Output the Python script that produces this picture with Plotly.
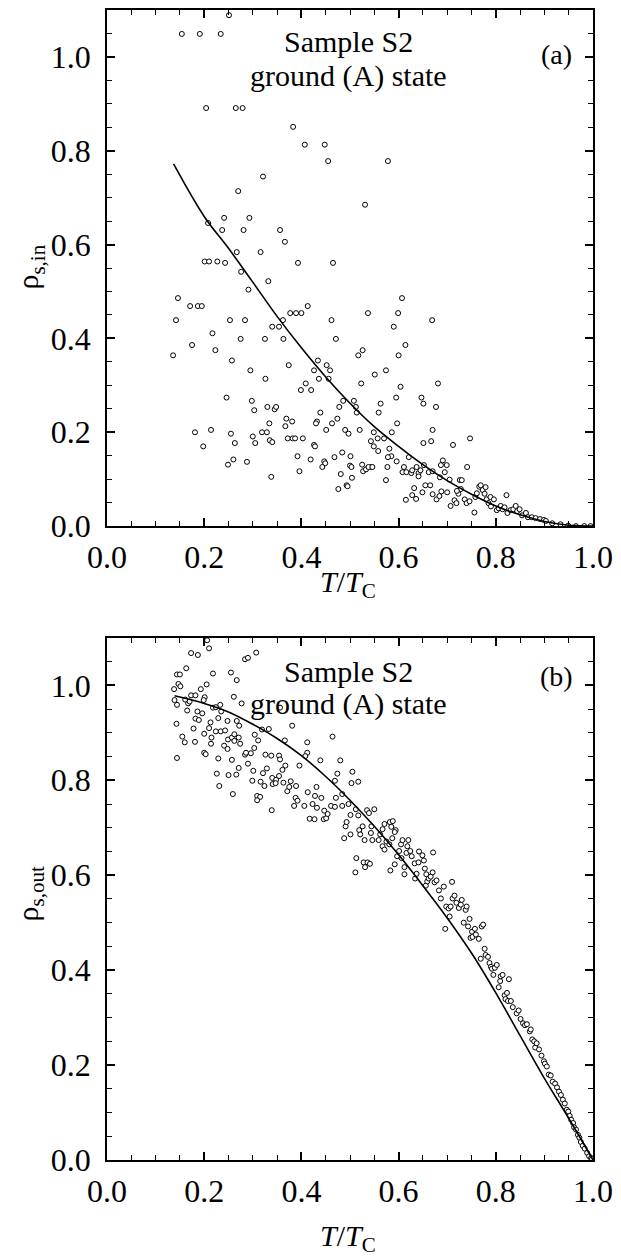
import plotly.graph_objects as go

# ---------------- Panel (a): rho_s,in ----------------
a_x = [0.154,0.191,0.234,0.251,0.204,0.265,0.279,0.383,0.407,0.448,0.455,0.578,0.321,0.531,0.270,
       0.208,0.241,0.293,0.237,0.281,0.356,0.366,0.316,0.267,0.201,0.210,0.227,0.243,0.393,0.465,
       0.276,0.332,0.291,0.146,0.171,0.187,0.195,0.413,0.377,0.389,0.400,0.537,0.599,0.607,
       0.142,0.253,0.284,0.362,0.462,0.669,0.590,0.340,0.354,0.217,0.275,0.325,0.363,0.471,
       0.175,0.614,0.136,0.223,0.526,0.517,0.600,0.257,0.434,0.452,0.374,0.426,0.459,0.295,0.574,
       0.551,0.326,0.436,0.456,0.523,0.409,0.604,0.681,0.399,0.420,0.246,0.595,0.647,
       0.298,0.486,0.508,0.303,0.330,0.345,0.348,0.478,0.512,0.563,0.651,0.677,
       0.514,0.559,0.439,0.369,0.381,0.474,0.334,0.432,0.430,0.463,0.597,0.367,0.670,0.490,
       0.181,0.214,0.255,0.319,0.329,0.451,0.497,0.520,0.549,0.586,0.747,
       0.300,0.372,0.382,0.387,0.403,0.543,0.570,0.557,
       0.263,0.305,0.335,0.340,0.198,0.426,0.428,0.549,0.651,0.667,0.712,0.558,0.581,
       0.392,0.501,0.585,0.621,0.484,0.525,0.260,0.419,0.468,0.578,0.596,
       0.288,0.249,0.447,0.449,0.443,0.500,0.503,0.577,0.544,0.637,0.611,0.741,
       0.608,0.616,0.626,0.628,0.641,0.645,0.652,0.641,0.662,0.670,
       0.396,0.527,0.533,0.538,0.546,0.481,0.504,0.338,
       0.685,0.695,0.687,0.691,0.699,0.705,
       0.493,0.495,0.476,0.574,0.632,0.615,0.628,0.636,0.649,0.655,0.665,0.670,0.678,0.684,0.688,
       0.700,0.707,0.715,0.719,0.723,0.728,0.726,0.730,0.720,0.736,0.740,0.746,0.756,0.758,0.761,
       0.766,0.769,0.773,0.779,0.777,0.781,0.785,0.789,0.790,0.796,0.802,0.806,0.810,0.814,0.818,
       0.822,0.824,0.830,0.836,0.841,0.844,0.849,0.854,0.862,0.866,0.874,0.882,0.891,0.899,0.903,
       0.916,0.933,0.949,0.965,0.982,0.995]
a_y = [1.049,1.049,1.049,1.089,0.891,0.891,0.891,0.851,0.813,0.813,0.778,0.778,0.745,0.685,0.714,
       0.646,0.657,0.657,0.631,0.631,0.631,0.606,0.584,0.584,0.564,0.564,0.564,0.561,0.561,0.561,
       0.542,0.522,0.504,0.486,0.469,0.469,0.469,0.469,0.454,0.454,0.454,0.454,0.454,0.486,
       0.439,0.439,0.439,0.439,0.439,0.439,0.425,0.425,0.425,0.411,0.399,0.399,0.399,0.399,
       0.386,0.386,0.364,0.375,0.375,0.364,0.364,0.353,0.353,0.343,0.343,0.332,0.332,0.332,0.332,
       0.323,0.314,0.314,0.314,0.304,0.304,0.297,0.304,0.290,0.290,0.274,0.274,0.274,
       0.267,0.267,0.267,0.247,0.254,0.249,0.254,0.254,0.254,0.261,0.261,0.254,
       0.242,0.242,0.242,0.229,0.223,0.229,0.219,0.223,0.219,0.219,0.219,0.213,0.205,0.205,
       0.200,0.205,0.197,0.200,0.200,0.205,0.197,0.205,0.200,0.200,0.187,
       0.191,0.187,0.187,0.187,0.187,0.181,0.187,0.187,
       0.177,0.177,0.183,0.179,0.170,0.173,0.170,0.170,0.177,0.181,0.173,0.160,0.165,
       0.149,0.149,0.149,0.147,0.157,0.131,0.142,0.142,0.147,0.147,0.138,
       0.137,0.131,0.138,0.134,0.126,0.129,0.126,0.126,0.126,0.126,0.126,0.126,
       0.115,0.115,0.113,0.119,0.113,0.119,0.130,0.106,0.115,0.117,
       0.117,0.117,0.121,0.126,0.126,0.111,0.103,0.105,
       0.104,0.115,0.130,0.140,0.130,0.099,
       0.087,0.085,0.079,0.098,0.081,0.056,0.066,0.058,0.072,0.087,0.087,0.068,0.057,0.064,0.074,
       0.072,0.043,0.055,0.049,0.069,0.079,0.098,0.098,0.075,0.057,0.049,0.053,0.029,0.062,0.070,
       0.084,0.087,0.077,0.083,0.069,0.057,0.049,0.062,0.042,0.057,0.034,0.038,0.043,0.036,0.040,
       0.066,0.028,0.034,0.036,0.043,0.032,0.036,0.023,0.028,0.019,0.019,0.017,0.015,0.013,0.011,
       0.006,0.004,0.001,0.000,0.000,0.000]

a_fit_x = [0.137,0.2,0.25,0.3,0.35,0.4,0.45,0.5,0.55,0.6,0.65,0.7,0.75,0.8,0.85,0.9,0.95,1.0]
a_fit_y = [0.772,0.660,0.592,0.520,0.447,0.380,0.318,0.262,0.212,0.170,0.131,0.097,0.068,0.043,0.024,0.010,0.002,0.0]

# ---------------- Panel (b): rho_s,out ----------------
b_x = [0.206,0.210,0.173,0.187,0.284,0.290,0.307,0.163,0.144,0.150,0.218,0.255,0.267,0.147,0.151,
       0.205,0.138,0.193,0.139,0.161,0.173,0.182,0.201,0.261,0.144,0.167,0.170,0.199,0.218,0.224,
       0.233,0.235,0.277,0.186,0.196,0.165,0.143,0.182,0.189,0.213,0.229,0.248,0.272,0.267,0.210,
       0.178,0.224,0.234,0.243,0.200,0.215,0.249,0.257,0.262,0.262,0.271,0.155,0.160,0.181,0.274,
       0.214,0.241,0.248,0.304,0.319,0.333,0.311,0.366,0.381,0.303,0.144,0.200,0.203,0.229,0.257,
       0.284,0.286,0.296,0.326,0.338,0.354,0.356,0.367,0.396,0.412,0.408,0.412,0.464,0.439,0.480,
       0.226,0.231,0.250,0.259,0.266,0.271,0.290,0.301,0.299,0.309,0.315,0.309,0.316,0.321,0.329,
       0.340,0.348,0.324,0.341,0.339,0.347,0.354,0.361,0.363,0.371,0.375,0.378,0.389,0.388,0.385,
       0.392,0.406,0.413,0.417,0.427,0.423,0.431,0.428,0.432,0.441,0.446,0.447,0.451,0.454,0.461,
       0.469,0.471,0.474,0.469,0.484,0.484,0.488,0.491,0.493,0.501,0.497,0.503,0.517,0.505,0.501,
       0.512,0.517,0.519,0.521,0.526,0.530,0.535,0.539,0.544,0.543,0.546,0.550,0.559,0.562,0.567,
       0.571,0.582,0.585,0.594,0.575,0.567,0.571,0.581,0.592,0.588,0.513,0.511,0.528,0.531,0.536,
       0.541,0.587,0.583,0.592,0.597,0.601,0.605,0.608,0.606,0.612,0.612,0.616,0.618,0.620,0.624,
       0.627,0.633,0.634,0.637,0.641,0.642,0.649,0.652,0.654,0.657,0.656,0.659,0.662,0.666,0.670,
       0.671,0.674,0.678,0.683,0.687,0.693,0.696,0.698,0.703,0.705,0.707,0.710,0.711,0.715,0.719,
       0.724,0.728,0.730,0.734,0.738,0.740,0.743,0.746,0.748,0.751,0.752,0.757,0.759,0.765,0.771,
       0.774,0.769,0.777,0.779,0.784,0.787,0.790,0.792,0.795,0.798,0.802,0.806,0.809,0.810,0.814,
       0.818,0.820,0.823,0.827,0.825,0.831,0.835,0.843,0.847,0.851,0.856,0.860,0.864,0.870,0.872,
       0.875,0.879,0.881,0.884,0.889,0.894,0.899,0.901,0.905,0.909,0.913,0.917,0.922,0.926,0.930,
       0.934,0.938,0.942,0.946,0.949,0.952,0.955,0.959,0.961,0.965,0.969,0.972,0.975,0.979,0.983,
       0.988,0.992,0.996,0.998,0.356]
b_y = [1.095,1.078,1.068,1.064,1.055,1.058,1.069,1.036,1.023,1.023,1.025,1.027,1.011,1.003,0.998,
       1.002,0.992,0.992,0.969,0.970,0.979,0.979,0.975,0.976,0.959,0.962,0.966,0.969,0.953,0.954,
       0.959,0.945,0.962,0.945,0.941,0.947,0.919,0.930,0.927,0.922,0.931,0.925,0.915,0.925,0.910,
       0.909,0.903,0.903,0.905,0.898,0.890,0.886,0.890,0.897,0.883,0.890,0.892,0.880,0.881,0.877,
       0.877,0.873,0.866,0.896,0.907,0.908,0.884,0.884,0.915,0.868,0.847,0.858,0.855,0.846,0.843,
       0.854,0.858,0.857,0.854,0.852,0.852,0.844,0.831,0.831,0.858,0.851,0.880,0.892,0.842,0.842,
       0.814,0.788,0.811,0.771,0.812,0.826,0.835,0.820,0.799,0.767,0.765,0.758,0.797,0.815,0.825,
       0.805,0.801,0.788,0.792,0.737,0.794,0.809,0.822,0.795,0.777,0.786,0.798,0.788,0.763,0.746,
       0.757,0.746,0.775,0.719,0.718,0.750,0.786,0.767,0.742,0.763,0.718,0.736,0.720,0.729,0.746,
       0.744,0.763,0.814,0.799,0.771,0.746,0.678,0.703,0.712,0.727,0.750,0.794,0.797,0.818,0.686,
       0.739,0.726,0.695,0.686,0.703,0.674,0.737,0.731,0.703,0.689,0.674,0.739,0.674,0.686,0.697,
       0.708,0.712,0.702,0.695,0.671,0.661,0.654,0.665,0.691,0.714,0.636,0.606,0.627,0.617,0.627,
       0.624,0.678,0.610,0.623,0.640,0.651,0.665,0.674,0.636,0.617,0.602,0.647,0.661,0.674,0.651,
       0.640,0.625,0.593,0.603,0.627,0.650,0.642,0.631,0.614,0.602,0.578,0.587,0.593,0.597,0.606,
       0.648,0.585,0.589,0.568,0.551,0.576,0.487,0.534,0.530,0.513,0.534,0.586,0.551,0.557,0.542,
       0.531,0.538,0.548,0.500,0.527,0.534,0.492,0.508,0.468,0.481,0.470,0.487,0.475,0.466,0.492,
       0.496,0.424,0.445,0.432,0.428,0.415,0.407,0.403,0.390,0.405,0.411,0.364,0.377,0.387,0.390,
       0.347,0.339,0.352,0.381,0.335,0.335,0.322,0.309,0.315,0.297,0.288,0.284,0.286,0.271,0.275,
       0.254,0.250,0.237,0.246,0.233,0.220,0.208,0.203,0.197,0.180,0.178,0.165,0.161,0.153,0.144,
       0.137,0.127,0.119,0.106,0.102,0.093,0.085,0.078,0.069,0.064,0.053,0.047,0.038,0.030,0.024,
       0.015,0.008,0.004,0.002,0.953]

b_fit_x = [0.139,0.2,0.25,0.3,0.35,0.4,0.45,0.5,0.55,0.6,0.65,0.7,0.75,0.8,0.85,0.9,0.95,1.0]
b_fit_y = [0.978,0.962,0.944,0.918,0.888,0.852,0.808,0.758,0.703,0.643,0.578,0.510,0.436,0.352,0.262,0.172,0.088,0.0]

x_ticks = [0.0, 0.2, 0.4, 0.6, 0.8, 1.0]
x_tick_labels = ["0.0", "0.2", "0.4", "0.6", "0.8", "1.0"]
y_ticks = [0.0, 0.2, 0.4, 0.6, 0.8, 1.0]
y_tick_labels = ["0.0", "0.2", "0.4", "0.6", "0.8", "1.0"]

FONT = "Liberation Serif"
marker = dict(symbol="circle", size=5, color="white", line=dict(color="black", width=1))

fig = go.Figure()
fig.add_trace(go.Scatter(x=a_x, y=a_y, mode="markers", marker=marker, xaxis="x", yaxis="y",
                         showlegend=False, cliponaxis=True))
fig.add_trace(go.Scatter(x=a_fit_x, y=a_fit_y, mode="lines", line=dict(color="black", width=1.6, shape="spline"),
                         xaxis="x", yaxis="y", showlegend=False))
fig.add_trace(go.Scatter(x=b_x, y=b_y, mode="markers", marker=marker, xaxis="x2", yaxis="y2",
                         showlegend=False, cliponaxis=True))
fig.add_trace(go.Scatter(x=b_fit_x, y=b_fit_y, mode="lines", line=dict(color="black", width=1.6, shape="spline"),
                         xaxis="x2", yaxis="y2", showlegend=False))

axis_common = dict(
    showgrid=False, zeroline=False, showline=True, linecolor="black", linewidth=1.5,
    mirror="allticks", ticks="inside", ticklen=8, tickwidth=1.5, tickcolor="black",
    tickfont=dict(family=FONT, size=32, color="black"),
)
xa = dict(axis_common, range=[0, 1.0], tickvals=x_ticks, ticktext=x_tick_labels, ticklabelstandoff=2,
          minor=dict(dtick=0.05, tick0=0, ticks="inside", ticklen=5, tickwidth=1.2, tickcolor="black"))
ya = dict(axis_common, range=[0, 1.1], tickvals=y_ticks, ticktext=y_tick_labels, ticklabelstandoff=8,
          minor=dict(dtick=0.05, tick0=0, ticks="inside", ticklen=5, tickwidth=1.2, tickcolor="black"))

top_bottom = 0.5512
bot_top = 0.454

fig.update_layout(
    width=621, height=1258,
    margin=dict(l=107, r=28, t=8, b=98),
    paper_bgcolor="white", plot_bgcolor="white",
    xaxis=dict(xa, domain=[0, 1], anchor="y"),
    yaxis=dict(ya, domain=[top_bottom, 1], anchor="x"),
    xaxis2=dict(xa, domain=[0, 1], anchor="y2"),
    yaxis2=dict(ya, domain=[0, bot_top], anchor="x2"),
    font=dict(family=FONT, color="black"),
)

ann_font = dict(family=FONT, size=30, color="black")
lab_font = dict(family=FONT, size=28, color="black")
title_font = dict(family=FONT, size=30, color="black")
c = dict(showarrow=False, xanchor="center", yanchor="middle")
annotations = [
    dict(c, text="Sample S2", x=0.496, y=1.032, xref="x", yref="y", font=ann_font),
    dict(c, text="ground (A) state", x=0.496, y=0.960, xref="x", yref="y", font=ann_font),
    dict(c, text="(a)", x=0.924, y=1.006, xref="x", yref="y", font=lab_font),
    dict(c, text="Sample S2", x=0.496, y=1.030, xref="x2", yref="y2", font=ann_font),
    dict(c, text="ground (A) state", x=0.496, y=0.961, xref="x2", yref="y2", font=ann_font),
    dict(c, text="(b)", x=0.924, y=1.018, xref="x2", yref="y2", font=lab_font),
    dict(c, text="<i>T</i>/<i>T</i><sub>C</sub>", x=0.496, y=(1160 - 583) / 1152, xref="paper", yref="paper",
         font=title_font),
    dict(c, text="<i>T</i>/<i>T</i><sub>C</sub>", x=0.496, y=(1160 - 1238) / 1152, xref="paper", yref="paper",
         font=title_font),
    dict(c, text="ρ<sub>s,in</sub>", x=(30 - 107) / 486, y=(1160 - 266) / 1152, xref="paper", yref="paper",
         font=title_font, textangle=-90),
    dict(c, text="ρ<sub>s,out</sub>", x=(30 - 107) / 486, y=(1160 - 894) / 1152, xref="paper", yref="paper",
         font=title_font, textangle=-90),
]
fig.update_layout(annotations=annotations)

fig.write_html("out.html")
